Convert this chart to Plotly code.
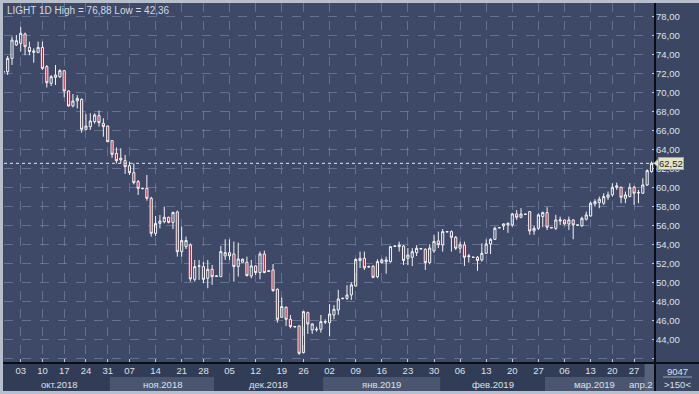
import plotly.graph_objects as go

# ---------------- data ----------------
opens = [72.10, 72.17, 73.57, 74.98, 75.15, 76.14, 74.73, 74.20, 74.20, 74.73,
         72.70, 70.94, 71.57, 71.64, 72.28, 70.14, 68.56, 69.10, 69.26, 66.10,
         66.38, 66.91, 67.54, 66.73, 66.45, 64.91, 63.57, 62.88, 62.80, 62.28,
         61.54, 60.59, 59.90, 59.89, 58.84, 55.15, 56.20, 56.38, 56.84, 56.30,
         57.40, 53.22, 53.75, 53.93, 50.31, 51.68, 51.65, 50.42, 51.37, 50.62,
         50.59, 52.77, 53.12, 52.98, 51.65, 52.10, 52.10, 50.66, 51.72, 51.02,
         52.98, 51.15, 51.30, 49.26, 46.31, 47.37, 46.10, 45.30, 45.40, 42.59,
         46.80, 44.98, 45.00, 45.05, 45.80, 45.75, 46.56, 47.08, 48.28, 48.31,
         48.67, 49.61, 52.28, 52.52, 51.60, 51.68, 50.59, 52.07, 52.17, 52.17,
         53.78, 53.75, 53.82, 52.52, 52.63, 53.12, 53.50, 53.47, 52.07, 53.30,
         54.35, 53.93, 55.30, 55.33, 54.73, 53.58, 53.93, 52.70, 52.62, 52.63,
         52.35, 53.05, 54.03, 54.52, 55.72, 55.93, 56.03, 56.03, 57.19, 56.84,
         57.15, 57.44, 55.40, 55.68, 56.91, 57.33, 55.72, 55.68, 56.45, 56.56,
         56.14, 56.56, 56.00, 55.93, 56.63, 56.98, 58.25, 58.39, 58.32, 58.95,
         59.20, 60.00, 60.00, 58.84, 59.02, 60.00, 59.40, 59.37, 60.24, 61.65]
highs = [72.30, 73.82, 75.86, 76.03, 76.88, 76.28, 75.33, 74.63, 75.33, 75.33,
         72.87, 71.82, 72.87, 72.42, 72.35, 70.20, 69.82, 69.70, 69.36, 67.70,
         67.79, 67.79, 68.07, 67.26, 66.50, 64.95, 64.20, 64.10, 63.40, 62.70,
         62.50, 60.77, 59.95, 61.29, 59.00, 56.98, 57.08, 57.96, 56.90, 57.44,
         57.55, 55.86, 54.80, 54.10, 52.35, 52.35, 52.15, 52.35, 51.82, 50.70,
         53.82, 54.52, 54.52, 54.28, 54.17, 52.50, 52.70, 52.35, 51.80, 53.23,
         53.33, 51.25, 51.92, 49.36, 48.40, 47.44, 46.56, 45.40, 45.45, 46.98,
         46.91, 45.68, 45.33, 46.56, 46.10, 47.70, 47.60, 49.20, 48.35, 49.70,
         50.00, 52.52, 53.23, 53.23, 51.75, 51.80, 52.42, 52.50, 52.70, 53.82,
         53.85, 54.28, 53.93, 53.60, 53.60, 53.90, 53.60, 53.57, 54.00, 55.00,
         55.33, 55.60, 55.40, 55.45, 54.87, 54.28, 54.28, 52.98, 52.70, 52.77,
         54.10, 54.52, 54.63, 55.86, 55.80, 56.20, 56.30, 57.30, 57.60, 57.80,
         57.20, 57.50, 55.93, 57.26, 57.44, 57.90, 55.80, 57.09, 56.91, 56.60,
         56.91, 56.63, 56.05, 56.91, 57.44, 58.49, 58.74, 59.02, 59.37, 59.55,
         60.42, 60.49, 60.07, 59.55, 60.42, 60.14, 59.72, 60.95, 61.90, 62.70]
lows = [72.00, 71.82, 72.87, 74.87, 74.28, 73.90, 73.90, 73.12, 74.10, 72.35,
        70.50, 70.66, 70.77, 71.50, 69.47, 68.49, 68.42, 68.31, 65.75, 66.00,
        66.03, 66.70, 66.38, 65.33, 64.75, 63.10, 62.52, 62.52, 61.40, 61.29,
        60.30, 59.19, 59.80, 58.59, 54.80, 54.87, 55.68, 56.20, 56.20, 55.60,
        52.70, 52.70, 53.50, 50.07, 50.07, 50.25, 49.90, 49.37, 49.72, 50.60,
        50.59, 52.35, 52.35, 50.07, 50.60, 52.05, 50.60, 50.42, 50.77, 50.31,
        50.95, 51.10, 49.00, 45.75, 46.31, 45.40, 45.15, 45.25, 42.36, 42.52,
        44.56, 44.56, 44.80, 44.70, 45.60, 44.30, 46.10, 46.56, 48.20, 48.14,
        48.14, 49.55, 51.50, 51.30, 51.55, 50.42, 50.42, 51.98, 50.90, 52.07,
        53.75, 53.23, 51.82, 51.80, 51.70, 52.77, 53.45, 51.30, 51.90, 53.10,
        53.60, 53.23, 55.25, 53.23, 53.40, 53.05, 51.72, 52.07, 52.60, 51.20,
        52.17, 52.98, 52.98, 54.45, 55.70, 55.50, 55.20, 55.86, 56.56, 56.73,
        57.10, 55.00, 55.00, 55.50, 55.80, 55.50, 55.70, 55.50, 56.03, 56.03,
        55.50, 54.53, 55.95, 55.86, 56.50, 56.91, 57.96, 57.79, 58.14, 58.67,
        59.02, 59.72, 58.32, 58.32, 58.95, 58.14, 58.32, 59.30, 60.14, 61.54]
closes = [72.20, 73.57, 75.50, 75.43, 76.21, 74.80, 74.28, 74.35, 74.73, 72.52,
          71.01, 71.64, 71.82, 72.28, 70.14, 68.56, 69.08, 69.36, 66.10, 66.45,
          66.98, 67.61, 66.80, 66.38, 64.80, 63.47, 62.80, 63.05, 62.17, 61.54,
          60.49, 59.89, 59.86, 58.84, 55.15, 56.20, 56.45, 56.84, 56.30, 57.35,
          53.22, 54.40, 54.40, 50.35, 51.65, 51.72, 50.31, 51.37, 50.59, 50.66,
          53.23, 53.12, 52.77, 51.65, 52.45, 52.42, 50.70, 51.72, 51.02, 52.98,
          51.02, 51.20, 49.12, 46.10, 47.44, 46.10, 45.33, 45.33, 42.52, 46.91,
          45.61, 45.61, 45.05, 45.86, 45.86, 46.66, 47.15, 48.24, 48.31, 48.66,
          49.72, 52.40, 52.52, 51.52, 51.65, 50.52, 52.17, 52.35, 52.35, 53.75,
          53.82, 53.93, 52.30, 52.87, 53.22, 53.57, 53.55, 52.07, 53.60, 54.30,
          53.95, 55.33, 55.33, 54.73, 53.58, 53.93, 52.63, 52.77, 52.63, 52.28,
          53.05, 54.03, 54.52, 55.68, 55.75, 56.14, 56.20, 57.20, 56.84, 57.19,
          57.16, 55.40, 55.68, 57.09, 57.33, 55.79, 55.75, 56.56, 56.56, 56.14,
          56.56, 56.03, 56.03, 56.73, 57.09, 58.32, 58.49, 58.74, 59.02, 59.20,
          60.00, 60.14, 58.95, 59.20, 60.00, 59.37, 59.44, 60.24, 61.75, 62.52]

day_tick_idx = [4, 9, 14, 19, 24, 29, 35, 41, 46, 52, 58, 64, 69, 75, 81, 87,
                93, 99, 105, 111, 117, 123, 129, 135, 140, 145]
day_tick_labels = ["03", "10", "17", "24", "31", "07", "14", "21", "28", "05",
                   "12", "19", "26", "02", "09", "16", "23", "30", "06", "13",
                   "20", "27", "06", "13", "20", "27"]
month_labels = ["окт.2018", "ноя.2018", "дек.2018", "янв.2019", "фев.2019",
                "мар.2019", "апр.2"]
month_start_idx = [2, 25, 49, 74, 101, 125, 148]
y_tick_vals = list(range(42, 80, 2))
volume_text = "9047"
bars_text = ">150<"
symbol = "LIGHT"
period = "1D"

# ---------------- geometry / style ----------------
W, H = 699, 394
LM, RM, TM, BM = 4, 44, 3, 31
PW = W - LM - RM
PH = H - TM - BM
X_RANGE = [0.16, 149.8]
Y_RANGE = [41.5, 79.4]
Y_PER_PX = (Y_RANGE[1] - Y_RANGE[0]) / PH

def px2x(px):
    return (px - LM) / PW

def py2y(py):
    return (H - BM - py) / PH

def fmt(v):
    return f"{v:.2f}".replace(".", ",")

PLOT_BG = "#3d4966"
PAPER_BG = "#3a4662"
AXIS_ROW = "#313c56"
BAND_LIGHT = "#4a5670"
TEXT = "#dde1e8"
GRID = "rgba(130,146,176,0.55)"
FONT = "Liberation Sans"

idx = list(range(len(closes)))

fig = go.Figure()
fig.add_trace(go.Candlestick(
    x=idx, open=opens, high=highs, low=lows, close=closes,
    increasing=dict(line=dict(color="#f4f4f4", width=1), fillcolor="rgba(0,0,0,0)"),
    decreasing=dict(line=dict(color="#f4f4f4", width=1), fillcolor="#b3263f"),
    whiskerwidth=0, hoverinfo="skip", showlegend=False,
))

shapes = []
# axis rows background
shapes.append(dict(type="rect", xref="paper", yref="paper",
                   x0=px2x(0), x1=px2x(W), y0=py2y(H), y1=py2y(H - BM),
                   fillcolor=AXIS_ROW, line_width=0, layer="below"))
# month bands
for i, lab in enumerate(month_labels):
    x0 = X_RANGE[0] if i == 0 else month_start_idx[i] - 0.5
    x1 = month_start_idx[i + 1] - 0.5 if i + 1 < len(month_labels) else X_RANGE[1]
    col = BAND_LIGHT if i % 2 == 1 else AXIS_ROW
    shapes.append(dict(type="rect", xref="x", yref="paper", x0=x0, x1=x1,
                       y0=py2y(392), y1=py2y(377), fillcolor=col, line_width=0,
                       layer="below"))
# current-bar highlight in axis rows
shapes.append(dict(type="rect", xref="x", yref="paper",
                   x0=len(closes) - 2.6, x1=X_RANGE[1],
                   y0=py2y(392), y1=py2y(364), fillcolor="#56617a", line_width=0,
                   layer="below"))
# right panel, corner
shapes.append(dict(type="rect", xref="paper", yref="paper",
                   x0=1, x1=px2x(W), y0=py2y(H), y1=py2y(0),
                   fillcolor=PAPER_BG, line_width=0, layer="below"))
# separator lines
shapes.append(dict(type="line", xref="paper", yref="paper",
                   x0=1, x1=1, y0=py2y(H), y1=py2y(0),
                   line=dict(color="#0a0e16", width=2)))
shapes.append(dict(type="line", xref="paper", yref="paper",
                   x0=px2x(0), x1=px2x(W), y0=0, y1=0,
                   line=dict(color="#0a0e16", width=2)))
# last price line
shapes.append(dict(type="line", xref="paper", yref="y",
                   x0=0, x1=1, y0=closes[-1], y1=closes[-1],
                   line=dict(color="#e6e6e6", width=1, dash="dot")))
# last price label pointer
hh = 4.5 * Y_PER_PX
shapes.append(dict(type="path", xref="paper", yref="y",
                   path=(f"M {px2x(654)},{closes[-1]} L {px2x(658.5)},{closes[-1] + hh} "
                         f"L {px2x(658.5)},{closes[-1] - hh} Z"),
                   fillcolor="#e4e4c6", line=dict(color="#a8a890", width=1)))
# underline in corner box
shapes.append(dict(type="line", xref="paper", yref="paper",
                   x0=px2x(663), x1=px2x(692), y0=py2y(377), y1=py2y(377),
                   line=dict(color="#9aa3b5", width=1)))
# outer frame
frame = "#b7bfcd"
shapes.append(dict(type="rect", xref="paper", yref="paper", x0=px2x(0), x1=px2x(W),
                   y0=py2y(3), y1=py2y(0), fillcolor=frame, line_width=0))
shapes.append(dict(type="rect", xref="paper", yref="paper", x0=px2x(0), x1=px2x(3),
                   y0=py2y(H), y1=py2y(0), fillcolor=frame, line_width=0))
shapes.append(dict(type="rect", xref="paper", yref="paper", x0=px2x(0), x1=px2x(W),
                   y0=py2y(H), y1=py2y(391), fillcolor=frame, line_width=0))

annotations = []
annotations.append(dict(
    xref="paper", yref="paper", x=px2x(5), y=py2y(10), xanchor="left", yanchor="middle",
    text=f"{symbol} {period} High = {fmt(max(highs))} Low = {fmt(min(lows))}",
    showarrow=False, font=dict(family=FONT, size=10, color="#d4d9e2")))
for i, lab in enumerate(month_labels[:-1]):
    x0 = month_start_idx[i] - 0.5
    x1 = month_start_idx[i + 1] - 0.5
    annotations.append(dict(xref="x", yref="paper", x=(x0 + x1) / 2, y=py2y(384),
                            text=lab, showarrow=False, xanchor="center", yanchor="middle",
                            font=dict(family=FONT, size=9.5, color=TEXT)))
annotations.append(dict(xref="paper", yref="paper", x=1, y=py2y(384),
                        text=month_labels[-1], showarrow=False, xanchor="right",
                        yanchor="middle", font=dict(family=FONT, size=9.5, color=TEXT)))
annotations.append(dict(xref="paper", yref="y", x=px2x(658), y=closes[-1],
                        text=fmt(closes[-1]), showarrow=False, xanchor="left",
                        yanchor="middle", bgcolor="#e4e4c6", bordercolor="#a8a890",
                        borderwidth=1, borderpad=0,
                        font=dict(family=FONT, size=9.5, color="#222222")))
annotations.append(dict(xref="paper", yref="paper", x=px2x(677), y=py2y(371),
                        text=volume_text, showarrow=False, xanchor="center",
                        yanchor="middle", font=dict(family=FONT, size=9.5, color=TEXT)))
annotations.append(dict(xref="paper", yref="paper", x=px2x(677), y=py2y(384),
                        text=bars_text, showarrow=False, xanchor="center",
                        yanchor="middle", font=dict(family=FONT, size=9.5, color=TEXT)))

fig.update_layout(
    width=W, height=H,
    margin=dict(l=LM, r=RM, t=TM, b=BM, pad=0),
    paper_bgcolor=PAPER_BG, plot_bgcolor=PLOT_BG,
    separators=", ",
    showlegend=False,
    hovermode=False,
    shapes=shapes, annotations=annotations,
    xaxis=dict(range=X_RANGE, rangeslider=dict(visible=False),
               tickmode="array", tickvals=day_tick_idx, ticktext=day_tick_labels,
               showgrid=True, gridcolor=GRID, griddash="dash", gridwidth=1,
               ticks="inside", ticklen=4, tickcolor="#c8cdd8",
               showline=False, zeroline=False,
               tickfont=dict(family=FONT, size=9.5, color=TEXT)),
    yaxis=dict(range=Y_RANGE, side="right",
               tickmode="array", tickvals=y_tick_vals,
               ticktext=[""] + [fmt(v) for v in y_tick_vals[1:]],
               showgrid=True, gridcolor=GRID, griddash="dash", gridwidth=1,
               ticks="inside", ticklen=3, tickcolor="#c8cdd8",
               showline=False, zeroline=False,
               tickfont=dict(family=FONT, size=9.5, color=TEXT)),
)

fig.write_html("out.html",
               config={"displayModeBar": False, "staticPlot": True},
               post_script="document.body.style.margin='0';"
                           "document.body.style.overflow='hidden';")
